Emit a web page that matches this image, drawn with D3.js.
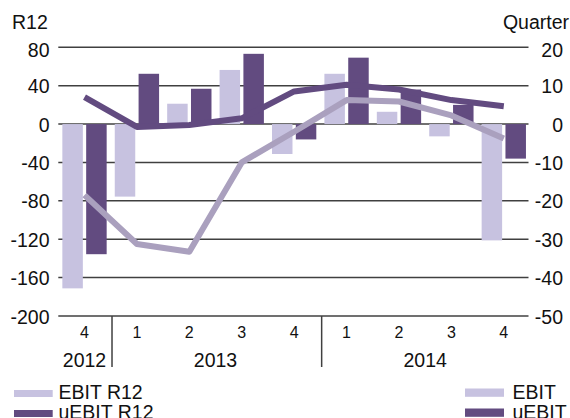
<!DOCTYPE html>
<html><head><meta charset="utf-8">
<script src="https://cdn.jsdelivr.net/npm/d3@7"></script>
<style>
html,body{margin:0;padding:0;background:#fff;}
svg{display:block;font-family:"Liberation Sans",Arial,sans-serif;}
</style></head>
<body>
<svg id="chart" width="570" height="418"></svg>
<script>
const quarters = ["4","1","2","3","4","1","2","3","4"];
const years = [{year:"2012", n:1},{year:"2013", n:4},{year:"2014", n:4}];
const ebitQ   = [-42.8, -18.9, 5.3, 14.1, -7.8, 13.1, 3.2, -3.2, -30.3];
const uebitQ  = [-33.9, 13.1, 9.2, 18.3, -4.0, 17.3, 9.0, 5.0, -9.0];
const ebitR12  = [-74, -125, -133, -40, -8, 25, 23.5, 9, -15];
const uebitR12 = [28, -3, -1, 6, 34, 41, 36, 25, 18.5];
const leftTicks = [80, 40, 0, -40, -80, -120, -160, -200];
const rightTicks = [20, 10, 0, -10, -20, -30, -40, -50];

const C_LIGHT = "#c7c2e0", C_DARK = "#624b80", C_LLINE = "#aaa0be", C_GRID = "#404040";
const FS = 19.5;

const svg = d3.select("#chart");
const idx = d3.range(quarters.length);
const x = d3.scaleBand().domain(idx).range([58.3, 530]).paddingInner(0).paddingOuter(0);
const x1 = d3.scaleBand().domain(["EBIT","uEBIT"]).range([0, x.bandwidth()]).paddingInner(0.14).paddingOuter(0.17);
const yL = d3.scaleLinear().domain([-200, 80]).range([316, 47.3]);
const yR = d3.scaleLinear().domain([-50, 20]).range([316, 47.3]);
const cx = i => x(i) + x.bandwidth()/2;

// gridlines
svg.append("g").selectAll("line").data(leftTicks).join("line")
  .attr("x1", 58.3).attr("x2", 528.5)
  .attr("y1", d => yL(d)).attr("y2", d => yL(d))
  .attr("stroke", C_GRID).attr("stroke-width", 1.5);

// left labels
svg.append("g").selectAll("text").data(leftTicks).join("text")
  .attr("x", 49.5).attr("y", (d,i) => yL(d) + (i===0 ? 3 : 0.5))
  .attr("dy", "0.36em").attr("text-anchor", "end")
  .attr("font-size", FS).attr("fill", "#111").text(d => d);
// right labels
svg.append("g").selectAll("text").data(rightTicks).join("text")
  .attr("x", 563).attr("y", (d,i) => yR(d) + (i===0 ? 3 : 0.5))
  .attr("dy", "0.36em").attr("text-anchor", "end")
  .attr("font-size", FS).attr("fill", "#111").text(d => d);

svg.append("text").attr("x", 12).attr("y", 29.3).attr("font-size", FS).attr("fill", "#111").text("R12");
svg.append("text").attr("x", 569).attr("y", 29.3).attr("text-anchor", "end").attr("font-size", FS).attr("fill", "#111").text("Quarter");

// bars
const barData = [];
idx.forEach(i => {
  barData.push({i, s:"EBIT", v: ebitQ[i], c: C_LIGHT});
  barData.push({i, s:"uEBIT", v: uebitQ[i], c: C_DARK});
});
svg.append("g").selectAll("rect").data(barData).join("rect")
  .attr("x", d => x(d.i) + x1(d.s)).attr("width", x1.bandwidth())
  .attr("y", d => Math.min(yR(d.v), yR(0)))
  .attr("height", d => Math.abs(yR(d.v) - yR(0)))
  .attr("fill", d => d.c);

// lines
const line = d3.line().x((d,i) => cx(i)).y(d => yL(d));
svg.append("path").datum(ebitR12).attr("d", line).attr("fill", "none")
  .attr("stroke", C_LLINE).attr("stroke-width", 6).attr("stroke-linejoin", "round");
svg.append("path").datum(uebitR12).attr("d", line).attr("fill", "none")
  .attr("stroke", C_DARK).attr("stroke-width", 6).attr("stroke-linejoin", "round");

// x axis labels
svg.append("g").selectAll("text").data(quarters).join("text")
  .attr("x", (d,i) => cx(i)).attr("y", 337.5).attr("text-anchor", "middle")
  .attr("font-size", 16).attr("fill", "#111").text(d => d);
let start = 0;
const sepG = svg.append("g");
years.forEach((yv, k) => {
  const x0 = x(start), x1e = x(start + yv.n - 1) + x.bandwidth();
  svg.append("text").attr("x", (x0 + x1e)/2).attr("y", 366.5).attr("text-anchor", "middle")
    .attr("font-size", FS).attr("fill", "#111").text(yv.year);
  if (k < years.length - 1) {
    sepG.append("line").attr("x1", x1e + 1.3).attr("x2", x1e + 1.3).attr("y1", 316).attr("y2", 367)
      .attr("stroke", C_GRID).attr("stroke-width", 1.5);
  }
  start += yv.n;
});

// legends
const legL = [{t:"EBIT R12", c:C_LIGHT}, {t:"uEBIT R12", c:C_DARK}];
legL.forEach((d, k) => {
  svg.append("rect").attr("x", 14).attr("y", 390 + k*20).attr("width", 38.7).attr("height", 7).attr("fill", d.c);
  svg.append("text").attr("x", 58.5).attr("y", 398.5 + k*20).attr("font-size", FS).attr("fill", "#111").text(d.t);
});
const legR = [{t:"EBIT", c:C_LIGHT}, {t:"uEBIT", c:C_DARK}];
legR.forEach((d, k) => {
  svg.append("rect").attr("x", 465).attr("y", 388.5 + k*20).attr("width", 39).attr("height", 8.3).attr("fill", d.c);
  svg.append("text").attr("x", 512.5).attr("y", 398.5 + k*20).attr("font-size", FS).attr("fill", "#111").text(d.t);
});
</script>
</body></html>
